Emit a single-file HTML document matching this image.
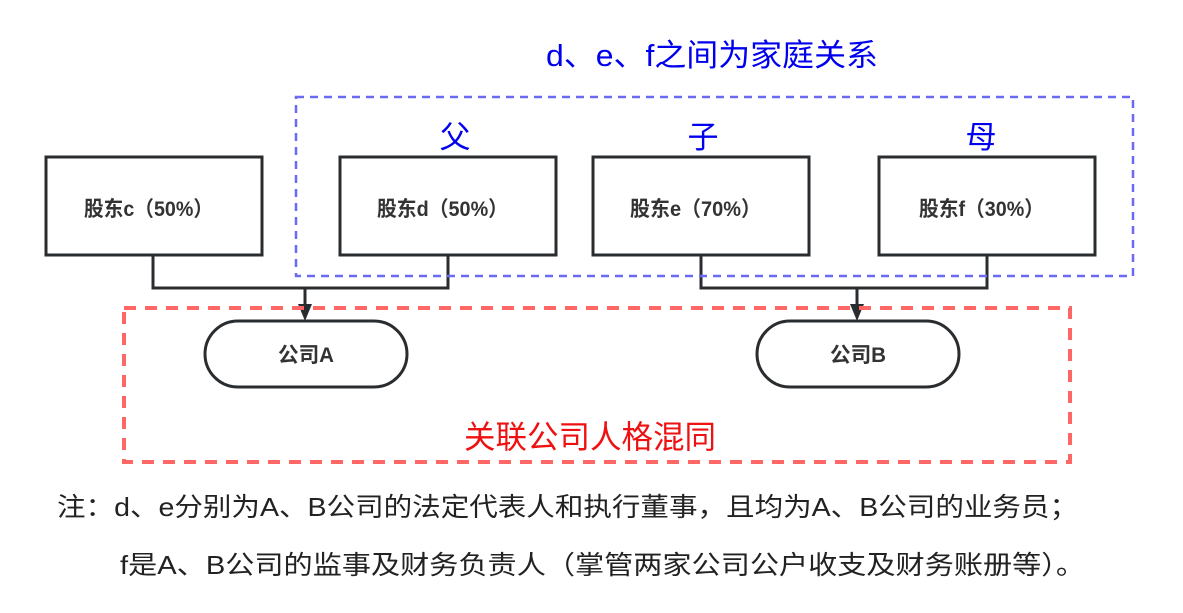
<!DOCTYPE html>
<html><head><meta charset="utf-8"><style>
body{margin:0;width:1183px;height:613px;background:#fff;overflow:hidden;font-family:"Liberation Sans","Noto Sans CJK SC",sans-serif}
</style></head><body>
<svg width="1183" height="613" xmlns="http://www.w3.org/2000/svg" style="position:absolute;left:0;top:0;font-family:'Liberation Sans','Noto Sans CJK SC',sans-serif">
<g fill="#fff" stroke="#2a2d30" stroke-width="3">
<rect x="46" y="157" width="216" height="98"/>
<rect x="340" y="157" width="216" height="98"/>
<rect x="593" y="157" width="216" height="98"/>
<rect x="879" y="157" width="216" height="98"/>
<rect x="205" y="321" width="202" height="66" rx="33"/>
<rect x="757" y="321" width="202" height="66" rx="33"/>
</g>
<g fill="none" stroke="#2a2d30" stroke-width="3">
<polyline points="153,255 153,288 448,288 448,255"/>
<line x1="305" y1="288" x2="305" y2="306"/>
<polyline points="701,255 701,288 987,288 987,255"/>
<line x1="857" y1="288" x2="857" y2="306"/>
</g>
<polygon points="298,304 312,304 305,321" fill="#2a2d30"/>
<polygon points="850,304 864,304 857,321" fill="#2a2d30"/>
<rect x="296" y="97" width="837" height="179" fill="none" stroke="#6a6af5" stroke-width="2.5" stroke-dasharray="8,6"/>
<rect x="124" y="308" width="946" height="154" fill="none" stroke="#ff6666" stroke-width="4" stroke-dasharray="12,9"/>
<g font-size="21" font-weight="bold" fill="#333">
<text x="84" y="216" textLength="129" lengthAdjust="spacingAndGlyphs">股东c（50%）</text>
<text x="377" y="216" textLength="131" lengthAdjust="spacingAndGlyphs">股东d（50%）</text>
<text x="630" y="216" textLength="131" lengthAdjust="spacingAndGlyphs">股东e（70%）</text>
<text x="919" y="216" textLength="125" lengthAdjust="spacingAndGlyphs">股东f（30%）</text>
<text x="278" y="362" textLength="56" lengthAdjust="spacingAndGlyphs">公司A</text>
<text x="830" y="362" textLength="56" lengthAdjust="spacingAndGlyphs">公司B</text>
</g>
<g fill="#0000ee" text-anchor="middle">
<text x="546" y="66" font-size="31" text-anchor="start" textLength="332" lengthAdjust="spacingAndGlyphs">d、e、f之间为家庭关系</text>
<text x="455" y="148" font-size="31">父</text>
<text x="703" y="148" font-size="31">子</text>
<text x="981" y="148" font-size="31">母</text>
</g>
<text x="464" y="448" font-size="32" fill="#ee1111" textLength="252" lengthAdjust="spacingAndGlyphs">关联公司人格混同</text>
<g font-size="26" fill="#222">
<text x="57" y="516" textLength="1021" lengthAdjust="spacingAndGlyphs">注：d、e分别为A、B公司的法定代表人和执行董事，且均为A、B公司的业务员；</text>
<text x="120" y="574" textLength="965" lengthAdjust="spacingAndGlyphs">f是A、B公司的监事及财务负责人（掌管两家公司公户收支及财务账册等）。</text>
</g>
</svg>
</body></html>
